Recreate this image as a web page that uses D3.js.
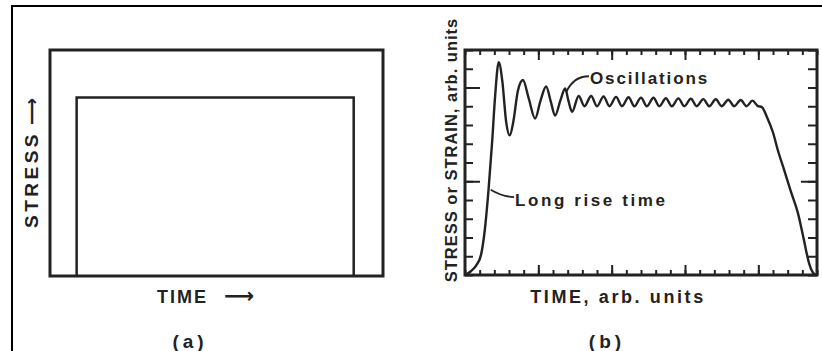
<!DOCTYPE html>
<html>
<head>
<meta charset="utf-8">
<script src="https://cdn.jsdelivr.net/npm/d3@7"></script>
<style>
  html, body { margin: 0; padding: 0; background: #fff; }
  svg { display: block; }
  text { font-family: "Liberation Sans", Arial, sans-serif; font-weight: bold; fill: #222; }
  .arrow { font-family: "DejaVu Sans", sans-serif; font-weight: bold; }
</style>
</head>
<body>
<svg id="fig" width="822" height="351"></svg>
<script>
// Panel (a): ideal square stress pulse
const pulseTime = [1.0, 1.0, 11.4, 11.4];
const pulseStress = [0, 7.9, 7.9, 0];

// Panel (b): measured stress/strain history with long rise time and ringing
const timeB = [0, 0.4, 0.8, 1.1, 1.35, 1.6, 1.85, 2.05, 2.3, 2.55, 2.8, 3.05, 3.3, 3.6, 3.95,
  4.35, 4.78, 5.15, 5.53, 5.85, 6.14, 6.5, 6.83, 7.05, 7.3,
  7.75, 8.15, 8.6, 9.0, 9.45, 9.85, 10.3, 10.7, 11.15, 11.55, 12.0, 12.4, 12.85, 13.25,
  13.7, 14.1, 14.55, 14.95, 15.4, 15.8, 16.25, 16.65, 17.1, 17.5, 17.95, 18.35, 18.8, 19.2,
  19.6, 19.95, 20.25, 20.6, 21.0, 21.35, 21.7, 22.2, 22.7, 23.1, 23.45, 23.7, 23.9];
const strainB = [0, 0.2, 0.55, 1.1, 2.4, 4.5, 7.1, 9.5, 11.35, 10.3, 8.2, 7.45, 8.2, 9.8, 10.4,
  9.4, 8.35, 9.3, 10.05, 9.25, 8.5, 9.3, 9.95, 9.3, 8.7,
  9.55, 9.0, 9.55, 9.0, 9.52, 9.0, 9.5, 9.0, 9.48, 9.0, 9.46, 9.0, 9.45, 9.0,
  9.43, 9.0, 9.42, 9.0, 9.4, 9.0, 9.38, 9.0, 9.37, 9.0, 9.35, 9.0, 9.33, 9.0,
  9.3, 9.02, 8.95, 8.4, 7.6, 6.6, 5.75, 4.5, 3.3, 1.9, 0.65, 0.15, 0];

// Tick layout of the (b) frame
const xMinorTicks = d3.range(0, 25);
const xMajorTicks = [5, 10, 15, 20];
const yMinorTicks = d3.range(0, 13);
const yMajorTicksLeft = [5, 10];
const yMajorTicksRight = [5];

const ink = "#222";
const svg = d3.select("#fig");

// Page border
svg.append("rect")
  .attr("x", 12).attr("y", 6).attr("width", 820).attr("height", 360)
  .attr("fill", "none").attr("stroke", "#000").attr("stroke-width", 2);

// ---------- Panel (a) ----------
const xa = d3.scaleLinear().domain([0, 12.5]).range([50, 383]);
const ya = d3.scaleLinear().domain([0, 10]).range([276, 50]);

svg.append("rect")
  .attr("x", xa(0)).attr("y", ya(10))
  .attr("width", xa(12.5) - xa(0)).attr("height", ya(0) - ya(10))
  .attr("fill", "none").attr("stroke", ink).attr("stroke-width", 3);

const pulse = pulseTime.map((t, i) => [t, pulseStress[i]]);
svg.append("path")
  .datum(pulse)
  .attr("d", d3.line().x(d => xa(d[0])).y(d => ya(d[1])))
  .attr("fill", "none").attr("stroke", ink).attr("stroke-width", 2.5);

const stressLbl = svg.append("text")
  .attr("transform", "translate(38,228) rotate(-90)")
  .attr("font-size", 19).attr("letter-spacing", 3.5);
stressLbl.append("tspan").text("STRESS");
stressLbl.append("tspan").attr("class", "arrow").attr("dx", 6).attr("font-size", 19)
  .attr("letter-spacing", 0).text("\u27F6");

const timeLbl = svg.append("text")
  .attr("x", 157).attr("y", 303)
  .attr("font-size", 18).attr("letter-spacing", 2);
timeLbl.append("tspan").text("TIME");
timeLbl.append("tspan").attr("class", "arrow").attr("dx", 16).attr("font-size", 21)
  .attr("letter-spacing", 0).text("\u27F6");

svg.append("text")
  .attr("x", 190).attr("y", 348)
  .attr("text-anchor", "middle")
  .attr("font-size", 19).attr("font-weight", "normal").attr("letter-spacing", 4)
  .text("(a)");

// ---------- Panel (b) ----------
const xb = d3.scaleLinear().domain([0, 24]).range([465, 817]);
const yb = d3.scaleLinear().domain([0, 12]).range([275, 50]);

const gTicks = svg.append("g");
function tickAxis(axis, tx, ty, len, vals) {
  const g = gTicks.append("g")
    .attr("transform", `translate(${tx},${ty})`)
    .call(axis.tickValues(vals).tickSize(-len).tickSizeOuter(0).tickFormat(""));
  g.select(".domain").remove();
  g.selectAll(".tick line").attr("stroke", ink).attr("stroke-width", 2);
}
tickAxis(d3.axisBottom(xb), 0, yb(0), 5, xMinorTicks);
tickAxis(d3.axisBottom(xb), 0, yb(0), 10, xMajorTicks);
tickAxis(d3.axisTop(xb), 0, yb(12), 5, xMinorTicks);
tickAxis(d3.axisTop(xb), 0, yb(12), 10, xMajorTicks);
tickAxis(d3.axisLeft(yb), xb(0), 0, 8, yMinorTicks);
tickAxis(d3.axisLeft(yb), xb(0), 0, 15, yMajorTicksLeft);
tickAxis(d3.axisRight(yb), xb(24), 0, 9, yMinorTicks);
tickAxis(d3.axisRight(yb), xb(24), 0, 16, yMajorTicksRight);

svg.append("rect")
  .attr("x", xb(0)).attr("y", yb(12))
  .attr("width", xb(24) - xb(0)).attr("height", yb(0) - yb(12))
  .attr("fill", "none").attr("stroke", ink).attr("stroke-width", 3);

const signal = timeB.map((t, i) => [t, strainB[i]]);
svg.append("path")
  .datum(signal)
  .attr("d", d3.line().curve(d3.curveMonotoneX).x(d => xb(d[0])).y(d => yb(d[1])))
  .attr("fill", "none").attr("stroke", ink).attr("stroke-width", 2.4)
  .attr("stroke-linejoin", "round");

// Annotations
svg.append("path")
  .attr("d", `M${xb(8.45)},${yb(10.6)} Q${xb(7.4)},${yb(10.6)} ${xb(6.9)},${yb(9.75)}`)
  .attr("fill", "none").attr("stroke", ink).attr("stroke-width", 1.8);
svg.append("text")
  .attr("x", 590).attr("y", 84)
  .attr("font-size", 17).attr("letter-spacing", 1.9)
  .text("Oscillations");

svg.append("path")
  .attr("d", `M${xb(3.35)},${yb(4.15)} Q${xb(2.5)},${yb(4.2)} ${xb(1.75)},${yb(4.55)}`)
  .attr("fill", "none").attr("stroke", ink).attr("stroke-width", 1.8);
svg.append("text")
  .attr("x", 515).attr("y", 206)
  .attr("font-size", 17).attr("letter-spacing", 2.6)
  .text("Long rise time");

svg.append("text")
  .attr("transform", "translate(457,150) rotate(-90)")
  .attr("text-anchor", "middle")
  .attr("font-size", 16.5).attr("letter-spacing", 1)
  .text("STRESS or STRAIN, arb. units");

svg.append("text")
  .attr("x", 618).attr("y", 303)
  .attr("text-anchor", "middle")
  .attr("font-size", 18).attr("letter-spacing", 2.6)
  .text("TIME, arb. units");

svg.append("text")
  .attr("x", 607).attr("y", 348)
  .attr("text-anchor", "middle")
  .attr("font-size", 19).attr("font-weight", "normal").attr("letter-spacing", 4)
  .text("(b)");
</script>
</body>
</html>
